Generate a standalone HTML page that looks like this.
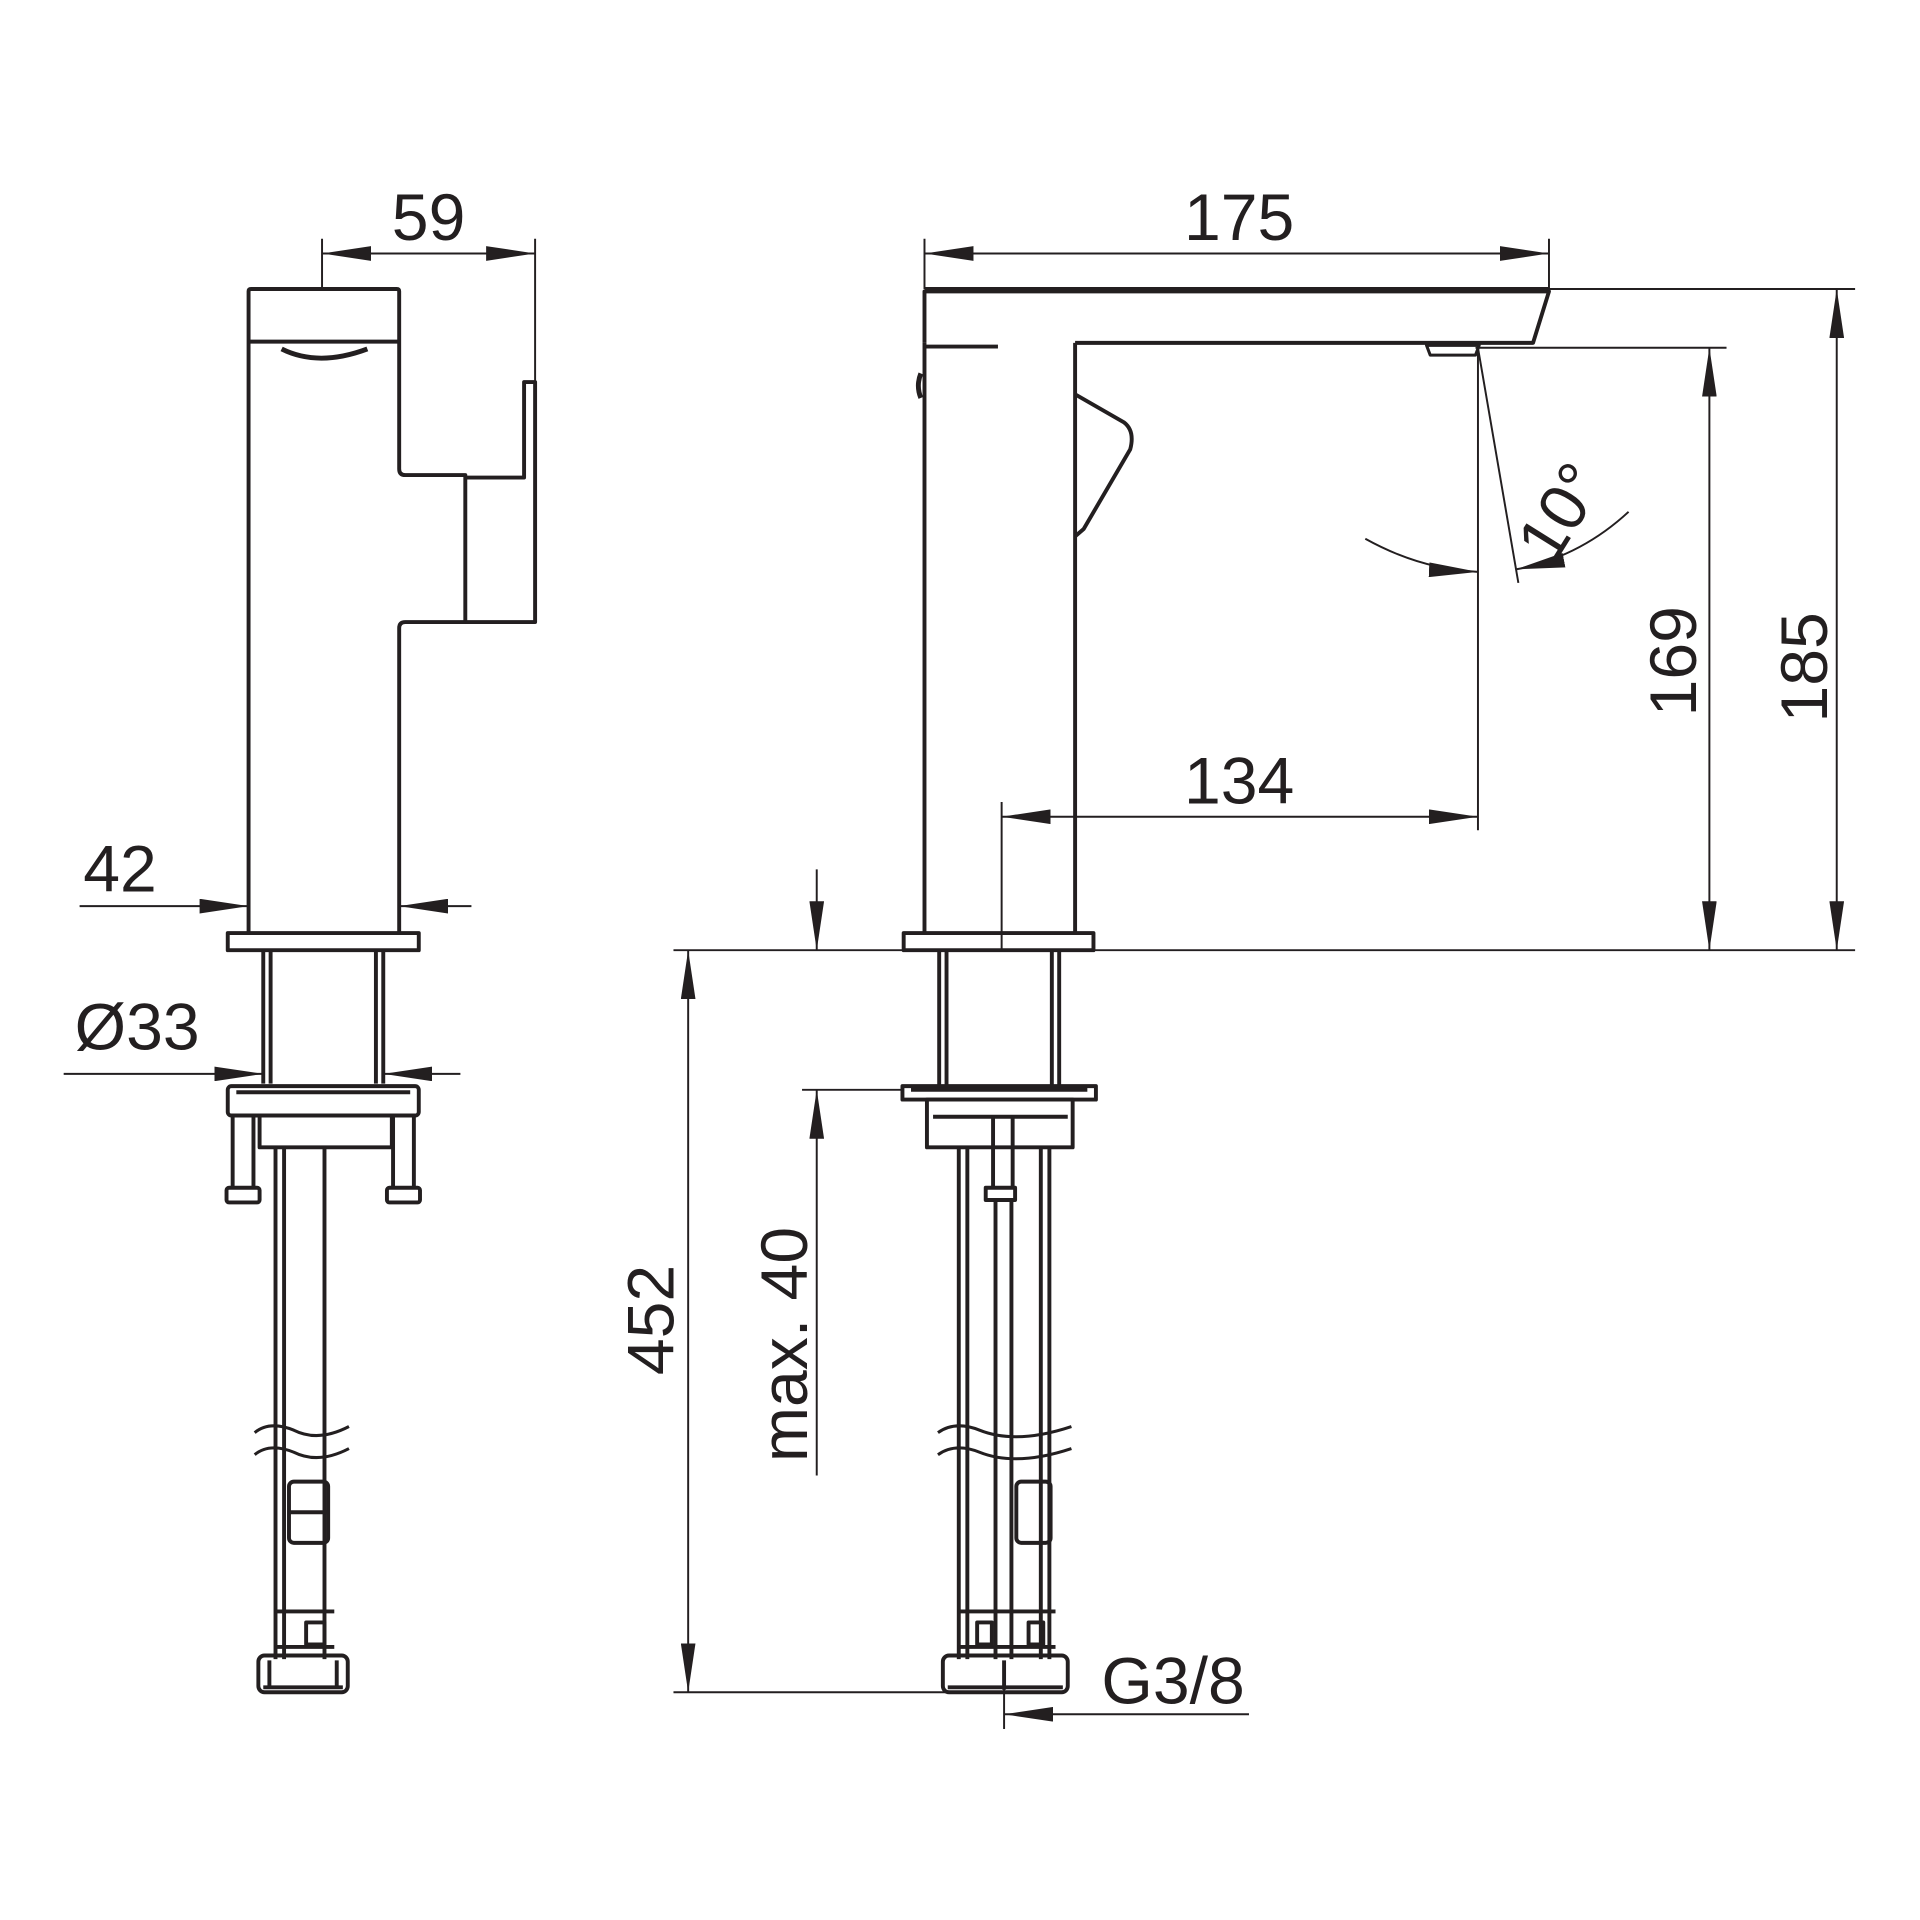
<!DOCTYPE html>
<html><head><meta charset="utf-8"><style>html,body{margin:0;padding:0;background:#fff}svg{display:block}</style></head>
<body>
<svg width="1920" height="1920" viewBox="0 0 1568 1568" xmlns="http://www.w3.org/2000/svg">
<defs>
<marker id="a" viewBox="0 0 40 12" refX="40" refY="6" markerWidth="40" markerHeight="12" markerUnits="userSpaceOnUse" orient="auto-start-reverse"><path d="M0,0 L40,6 L0,12 Z" fill="#231f20"/></marker>
</defs>
<g fill="none" stroke="#231f20" stroke-width="3.2" stroke-linejoin="round">
<path d="M203,762 V238 Q203,236 205,236 H324 Q326,236 326,238 V383 Q326,388 331,388 H380 V508 H331 Q326,508 326,513 V762"/>
<path d="M203,279 H326"/>
<path d="M230,285 Q260,300 300,285" stroke-width="4"/>
<path d="M380,390 H428 V312 H437 V508 H380"/>
<rect x="186" y="762" width="156" height="14"/>
<path d="M215,776 V885 M221,776 V885 M307,776 V885 M313,776 V885"/>
<rect x="186" y="887" width="156" height="24" rx="3"/>
<path d="M193,892 H335"/>
<rect x="212" y="911" width="108" height="26"/>
<path d="M190,911 V970 M207,911 V970 M321,911 V970 M338,911 V970"/>
<rect x="185" y="970" width="27" height="12" rx="2"/>
<rect x="316" y="970" width="27" height="12" rx="2"/>
<path d="M225,937 V1355 M232,937 V1355 M265,937 V1355"/>
<path d="M208,1170 Q220,1160 240,1168 Q260,1178 285,1165 M208,1188 Q220,1178 240,1186 Q260,1196 285,1183" stroke-width="2.5"/>
<rect x="236" y="1210" width="32" height="50" rx="4"/>
<path d="M236,1235 H268"/>
<path d="M224,1316 H273 M224,1345 H273"/>
<rect x="250" y="1325" width="15" height="18"/>
<rect x="211" y="1352" width="73" height="30" rx="5"/>
<path d="M215,1378 H280 M220,1356 V1378 M275,1356 V1378"/>
<path d="M755,280 V238 H1265 L1252,280 H878"/>
<path d="M755,236 H1265"/>
<path d="M755,283 H815"/>
<path d="M755,280 V762 M878,280 V762"/>
<path d="M752,305 Q748,315 752,325" stroke-width="4"/>
<path d="M878,322 L918,345 Q927,352 923,367 L885,432 L878,438"/>
<path d="M1165,282 H1208 L1205,290 H1168 Z" stroke-width="2.5"/>
<rect x="738" y="762" width="155" height="14"/>
<path d="M767,776 V887 M773,776 V887 M859,776 V887 M865,776 V887"/>
<rect x="737" y="887" width="158" height="11"/>
<path d="M744,890 H888"/>
<rect x="757" y="898" width="119" height="39"/>
<path d="M762,912 H872"/>
<path d="M811,912 V970 M827,912 V970"/>
<rect x="805" y="970" width="24" height="10"/>
<path d="M783,937 V1355 M790,937 V1355 M813,980 V1355 M826,980 V1355 M850,937 V1355 M857,937 V1355"/>
<path d="M766,1170 Q780,1160 800,1168 Q830,1180 875,1165 M766,1188 Q780,1178 800,1186 Q830,1198 875,1183" stroke-width="2.5"/>
<rect x="830" y="1210" width="28" height="50" rx="4"/>
<path d="M782,1316 H862 M782,1345 H862"/>
<rect x="798" y="1325" width="12" height="18"/><rect x="840" y="1325" width="12" height="18"/>
<rect x="770" y="1352" width="102" height="30" rx="5"/>
<path d="M774,1378 H868 M820,1356 V1380"/>
</g>
<g fill="none" stroke="#231f20" stroke-width="1.6">
<path d="M263,195 V236 M437,195 V312"/>
<path d="M263,207 H437" marker-start="url(#a)" marker-end="url(#a)"/>
<path d="M65,740 H203" marker-end="url(#a)"/><path d="M385,740 H326" marker-end="url(#a)"/>
<path d="M52,877 H215" marker-end="url(#a)"/><path d="M376,877 H313" marker-end="url(#a)"/>
<path d="M755,195 V236 M1265,195 V236"/>
<path d="M755,207 H1265" marker-start="url(#a)" marker-end="url(#a)"/>
<path d="M1265,236 H1515 M550,776 H1515 M1205,284 H1410"/>
<path d="M1500,236 V776" marker-start="url(#a)" marker-end="url(#a)"/>
<path d="M1396,284 V776" marker-start="url(#a)" marker-end="url(#a)"/>
<path d="M818,655 V776 M1207,284 V678"/>
<path d="M818,667 H1207" marker-start="url(#a)" marker-end="url(#a)"/>
<path d="M1207,284 L1240,476"/>
<path d="M1115,440 Q1160,465 1207,467" marker-end="url(#a)"/>
<path d="M1330,418 Q1290,455 1238,465" marker-end="url(#a)"/>
<path d="M667,710 V776" marker-end="url(#a)"/>
<path d="M667,1205 V890" marker-end="url(#a)"/>
<path d="M655,890 H737"/>
<path d="M562,776 V1382" marker-start="url(#a)" marker-end="url(#a)"/>
<path d="M550,1382 H785"/>
<path d="M820,1365 V1412"/>
<path d="M1020,1400 H820" marker-end="url(#a)"/>
</g>
<g font-family="Liberation Sans, sans-serif" font-size="54" fill="#231f20" text-anchor="middle">
<text x="350" y="196">59</text>
<text x="1012" y="196">175</text>
<text x="98" y="728">42</text>
<text x="112" y="857">Ø33</text>
<text x="1012" y="656">134</text>
<text x="958" y="1391">G3/8</text>
<text transform="translate(1492,545) rotate(-90)">185</text>
<text transform="translate(1385,540) rotate(-90)">169</text>
<text transform="translate(550,1078) rotate(-90)">452</text>
<text transform="translate(659,1098) rotate(-90)">max. 40</text>
<text transform="translate(1290,428) rotate(-58)">10°</text>
</g>
</svg>
</body></html>
